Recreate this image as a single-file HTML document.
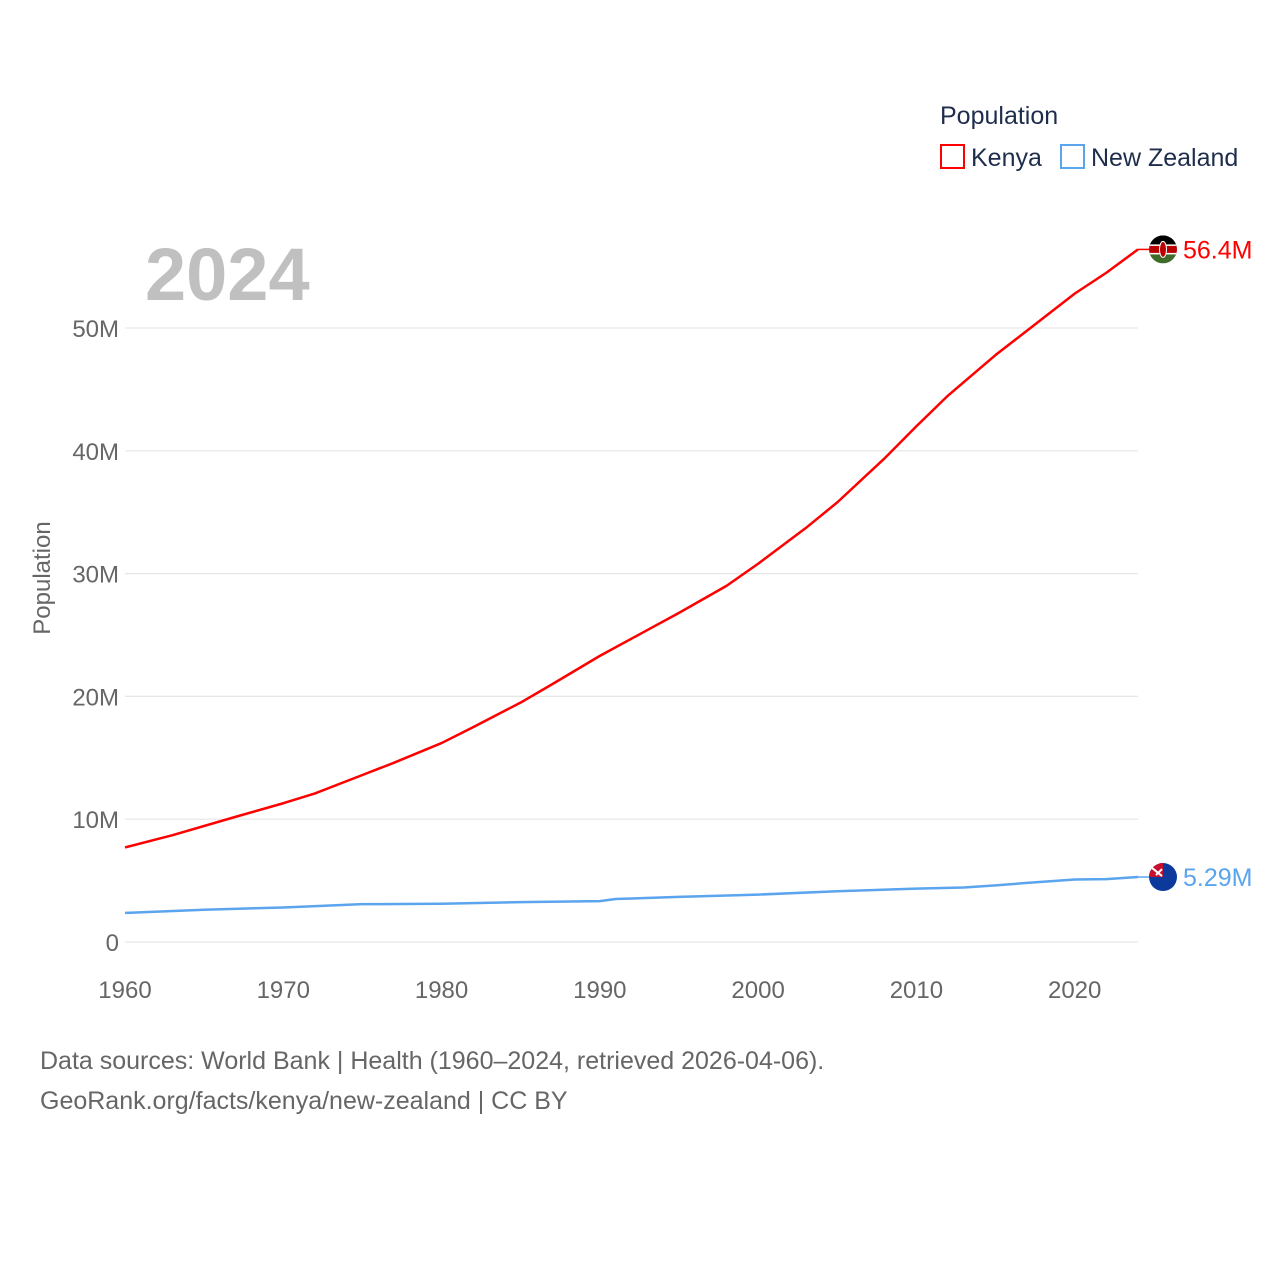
<!DOCTYPE html>
<html><head><meta charset="utf-8"><style>
body{margin:0;background:#fff;}
svg text{font-family:"Liberation Sans",sans-serif;}
</style></head><body>
<svg id="chart" width="1280" height="1280" xmlns="http://www.w3.org/2000/svg">
  <text x="940" y="124" font-size="25" fill="#1f2d4d">Population</text>
  <g>
    <rect x="941" y="145" width="23" height="23" fill="none" stroke="#ff0000" stroke-width="2"/>
    <text x="971" y="166" font-size="25" fill="#1f2d4d">Kenya</text>
  </g>
  <g>
    <rect x="1061" y="145" width="23" height="23" fill="none" stroke="#5ba4ee" stroke-width="2"/>
    <text x="1091" y="166" font-size="25" fill="#1f2d4d">New Zealand</text>
  </g>
  <text x="145" y="300" font-size="74" font-weight="bold" fill="#c0c0c0">2024</text>
  <text transform="translate(50,578) rotate(-90)" text-anchor="middle" font-size="24" fill="#666">Population</text>
  <g id="grid"></g><g id="series"></g><g id="ends"></g>
  <text x="40" y="1069" font-size="25" fill="#666">Data sources: World Bank | Health (1960–2024, retrieved 2026-04-06).</text>
  <text x="40" y="1109" font-size="25" fill="#666">GeoRank.org/facts/kenya/new-zealand | CC BY</text>
</svg>
<script>
const yTicks=[0,10,20,30,40,50];
const yTickLabels=["0","10M","20M","30M","40M","50M"];
const xTicks=[1960,1970,1980,1990,2000,2010,2020];
const kenyaYears=[1960,1963,1967,1970,1972,1975,1977,1980,1982,1985,1987,1990,1993,1995,1998,2000,2003,2005,2008,2010,2012,2015,2017,2020,2022,2024];
const kenyaValues=[7.7,8.7,10.2,11.3,12.1,13.6,14.6,16.2,17.5,19.5,21.0,23.3,25.4,26.8,29.0,30.8,33.7,35.8,39.4,42.0,44.5,47.8,49.8,52.8,54.5,56.4];
const nzYears=[1960,1965,1970,1975,1980,1985,1990,1991,1995,2000,2005,2010,2013,2015,2017,2020,2022,2024];
const nzValues=[2.37,2.63,2.81,3.08,3.11,3.25,3.33,3.50,3.67,3.86,4.13,4.35,4.44,4.61,4.81,5.09,5.12,5.29];
const endLabels=["56.4M","5.29M"];

const NS="http://www.w3.org/2000/svg";
const X=y=>125+(y-1960)*(1138-125)/64;
const Y=v=>942-v*12.28;
function mk(tag,attrs,parent){const e=document.createElementNS(NS,tag);for(const k in attrs)e.setAttribute(k,attrs[k]);parent.appendChild(e);return e;}
const grid=document.getElementById('grid');
yTicks.forEach((t,i)=>{
  const l=mk('line',{x1:125,x2:1138,y1:Y(t),y2:Y(t),stroke:'#e6e6e6','stroke-width':1.2},grid);
  
  
  const tx=mk('text',{x:119,y:Y(t)+9,'text-anchor':'end','font-size':24,fill:'#666'},grid);
  tx.textContent=yTickLabels[i];
  
  
});
xTicks.forEach(t=>{
  const tx=mk('text',{x:X(t),y:998,'text-anchor':'middle','font-size':24,fill:'#666'},grid);
  tx.textContent=t;
  
  
});
const ser=document.getElementById('series');
function line(years,vals,color,name){
  const p=mk('path',{d:years.map((y,i)=>(i?'L':'M')+X(y)+','+Y(vals[i])).join(' '),fill:'none',stroke:color,'stroke-width':2.5,'stroke-linejoin':'round'},ser);
  
  
}
line(kenyaYears,kenyaValues,'#ff0000','kenya-line');
line(nzYears,nzValues,'#5ba4ee','new-zealand-line');
const ends=document.getElementById('ends');
function endMark(v,color,label,name,flag){
  const y=Y(v);
  mk('line',{x1:1138,x2:1150,y1:y,y2:y,stroke:color,'stroke-width':1.5},ends);
  const g=mk('g',{},ends);
  
  
  flag(g,y);
  const t=mk('text',{x:1183,y:y+9,'font-size':25,fill:color},ends);
  t.textContent=label;
  
  
}
endMark(kenyaValues[kenyaValues.length-1],'#ff0000',endLabels[0],'kenya',(g,y)=>{
  const cp=mk('clipPath',{id:'ck'},g);
  mk('circle',{cx:1163,cy:y,r:14},cp);
  const gg=mk('g',{'clip-path':'url(#ck)'},g);
  mk('rect',{x:1149,y:y-14,width:28,height:10,fill:'#000'},gg);
  mk('rect',{x:1149,y:y-4,width:28,height:8,fill:'#bb0000'},gg);
  mk('rect',{x:1149,y:y+4,width:28,height:10,fill:'#3f6b2a'},gg);
  mk('rect',{x:1149,y:y-5,width:28,height:1.5,fill:'#fff'},gg);
  mk('rect',{x:1149,y:y+3.5,width:28,height:1.5,fill:'#fff'},gg);
  mk('ellipse',{cx:1163,cy:y,rx:3.5,ry:8,fill:'#bb0000',stroke:'#fff','stroke-width':1},gg);
});
endMark(nzValues[nzValues.length-1],'#5ba4ee',endLabels[1],'new-zealand',(g,y)=>{
  mk('circle',{cx:1163,cy:y,r:14,fill:'#0b3a9c'},g);
  mk('path',{d:`M1163 ${y} L1163 ${y-14} A14 14 0 0 0 1149 ${y} Z`,fill:'#c8102e'},g);
  mk('path',{d:`M1151 ${y-10} L1162 ${y-1} M1156 ${y-2} L1162 ${y-8}`,stroke:'#fff','stroke-width':2},g);
});
</script>
</body></html>
